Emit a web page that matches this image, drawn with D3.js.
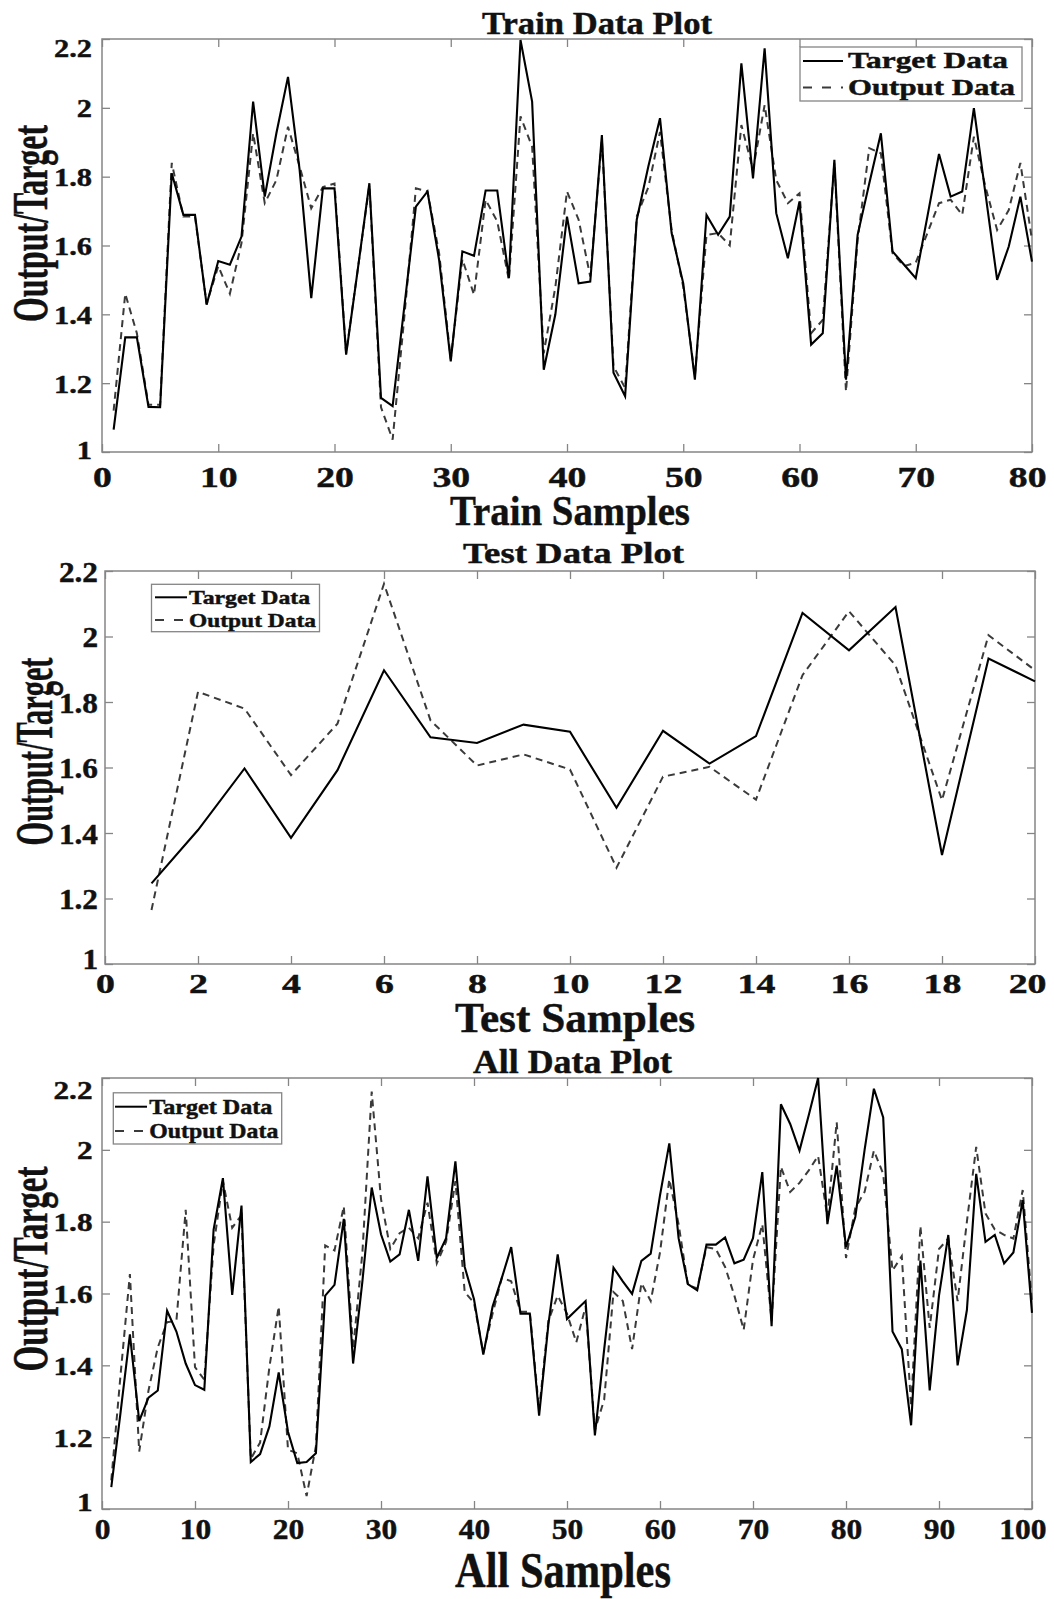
<!DOCTYPE html>
<html>
<head>
<meta charset="utf-8">
<script src="https://cdn.jsdelivr.net/npm/d3@7"></script>
<style>
body { margin: 0; background: #fff; }
text { font-family: "Liberation Serif", "Times New Roman", serif; font-weight: bold; fill: #111; stroke: #111; stroke-width: 0.45px; }
</style>
</head>
<body>
<script>
"use strict";
// values
const yTicks = [1, 1.2, 1.4, 1.6, 1.8, 2, 2.2];
const trainXTicks = [0, 10, 20, 30, 40, 50, 60, 70, 80];
const testXTicks = [0, 2, 4, 6, 8, 10, 12, 14, 16, 18, 20];
const allXTicks = [0, 10, 20, 30, 40, 50, 60, 70, 80, 90, 100];
const legendLabels = ["Target Data", "Output Data"];

const trainTarget = [1.065, 1.333, 1.333, 1.131, 1.13, 1.81, 1.689, 1.689, 1.428, 1.555,
  1.544, 1.626, 2.018, 1.742, 1.926, 2.09, 1.82, 1.447, 1.766, 1.766,
  1.283, 1.53, 1.781, 1.157, 1.133, 1.42, 1.713, 1.757, 1.558, 1.263,
  1.583, 1.57, 1.76, 1.76, 1.505, 2.197, 2.018, 1.239, 1.40, 1.684,
  1.49, 1.495, 1.921, 1.23, 1.162, 1.675, 1.83, 1.97, 1.636, 1.49,
  1.21, 1.689, 1.631, 1.684, 2.129, 1.795, 2.173, 1.694, 1.563, 1.728,
  1.312, 1.345, 1.849, 1.21, 1.631, 1.78, 1.926, 1.583, 1.544, 1.505,
  1.684, 1.866, 1.742, 1.757, 1.999, 1.75, 1.50, 1.597, 1.742, 1.553];
const trainOutput = [1.12, 1.46, 1.345, 1.137, 1.137, 1.84, 1.684, 1.684, 1.43, 1.54,
  1.46, 1.607, 1.926, 1.723, 1.79, 1.945, 1.83, 1.708, 1.77, 1.78,
  1.287, 1.53, 1.776, 1.13, 1.036, 1.39, 1.766, 1.757, 1.578, 1.27,
  1.56, 1.457, 1.733, 1.67, 1.50, 1.975, 1.887, 1.287, 1.48, 1.757,
  1.675, 1.51, 1.907, 1.249, 1.186, 1.684, 1.77, 1.93, 1.645, 1.48,
  1.22, 1.631, 1.636, 1.60, 1.95, 1.82, 2.008, 1.79, 1.723, 1.752,
  1.345, 1.384, 1.84, 1.176, 1.616, 1.883, 1.868, 1.578, 1.54, 1.55,
  1.636, 1.723, 1.733, 1.689, 1.916, 1.77, 1.645, 1.703, 1.84, 1.616];

const testTarget = [1.246, 1.409, 1.597, 1.385, 1.592, 1.897, 1.692, 1.675, 1.731, 1.709,
  1.477, 1.712, 1.612, 1.696, 2.072, 1.958, 2.09, 1.333, 1.933, 1.863];
const testOutput = [1.165, 1.831, 1.78, 1.577, 1.734, 2.161, 1.744, 1.606, 1.64, 1.594,
  1.294, 1.572, 1.602, 1.502, 1.882, 2.077, 1.912, 1.50, 2.004, 1.897];

const allTarget = [1.061, 1.27, 1.486, 1.245, 1.31, 1.33, 1.552, 1.494, 1.405, 1.345,
  1.332, 1.778, 1.921, 1.596, 1.845, 1.131, 1.153, 1.23, 1.38, 1.215,
  1.128, 1.131, 1.155, 1.594, 1.624, 1.808, 1.405, 1.634, 1.895, 1.765,
  1.689, 1.709, 1.833, 1.691, 1.926, 1.699, 1.754, 1.968, 1.674, 1.584,
  1.43, 1.564, 1.644, 1.729, 1.544, 1.544, 1.26, 1.514, 1.709, 1.529,
  1.554, 1.579, 1.205, 1.445, 1.672, 1.634, 1.599, 1.691, 1.711, 1.873,
  2.018, 1.754, 1.626, 1.609, 1.736, 1.736, 1.756, 1.684, 1.694, 1.754,
  1.938, 1.509, 2.127, 2.072, 1.998, 2.097, 2.2, 1.793, 1.956, 1.729,
  1.813, 2.0, 2.17, 2.09, 1.494, 1.445, 1.233, 1.692, 1.33, 1.594,
  1.763, 1.40, 1.554, 1.933, 1.744, 1.763, 1.684, 1.714, 1.86, 1.546];
const allOutput = [1.08, 1.375, 1.654, 1.16, 1.33, 1.45, 1.52, 1.524, 1.833, 1.395,
  1.36, 1.734, 1.913, 1.783, 1.818, 1.14, 1.185, 1.395, 1.564, 1.165,
  1.155, 1.036, 1.175, 1.734, 1.72, 1.843, 1.445, 1.714, 2.162, 1.863,
  1.724, 1.768, 1.783, 1.754, 1.853, 1.684, 1.744, 1.913, 1.604, 1.574,
  1.435, 1.544, 1.644, 1.634, 1.549, 1.549, 1.275, 1.524, 1.594, 1.544,
  1.464, 1.564, 1.22, 1.305, 1.604, 1.579, 1.445, 1.629, 1.579, 1.714,
  1.918, 1.793, 1.624, 1.614, 1.729, 1.724, 1.674, 1.594, 1.499, 1.694,
  1.793, 1.524, 1.953, 1.883, 1.908, 1.943, 1.983, 1.813, 2.077, 1.699,
  1.838, 1.883, 1.998, 1.933, 1.664, 1.704, 1.285, 1.788, 1.504, 1.724,
  1.753, 1.579, 1.80, 2.008, 1.823, 1.778, 1.763, 1.753, 1.888, 1.574];

const W = 1054, H = 1599;
const axisGray = "#858585";
const dash = "7,5";

let svg = d3.select("body").append("svg")
    .attr("width", W)
    .attr("height", H);

// squeeze or stretch a text element to a given width
function fit(sel, w) {
    sel.attr("textLength", w).attr("lengthAdjust", "spacingAndGlyphs");
}
function stretch(sel, sx) {
    sel.each(function() {
        let len = this.getComputedTextLength();
        d3.select(this).attr("textLength", len * sx).attr("lengthAdjust", "spacingAndGlyphs");
    });
}

const panels = [
    { title: "Train Data Plot", xLabel: "Train Samples", target: trainTarget, output: trainOutput,
      xTicks: trainXTicks, left: 102, right: 1032, top: 39, bottom: 452,
      titleX: 597, titleY: 34, titleSize: 32, titleW: 230,
      xLabX: 570, xLabY: 525, xLabSize: 43, xLabW: 240,
      yLabX: 47, yLabY: 223.5, yLabSize: 51, yLabW: 197,
      xTickSize: 29, xTickSx: 1.3, xTickOff: 35,
      yTickSize: 26, yTickSx: 1.17, yTickGap: 10, topShift: 9, bottomShift: -2,
      leg: { x: 800, y: 47, w: 222, h: 54, l0: 803, l1: 843, tx: 848, rows: [68, 95], lines: [61, 87.5], size: 23, tw: [160, 167] } },
    { title: "Test Data Plot", xLabel: "Test Samples", target: testTarget, output: testOutput,
      xTicks: testXTicks, left: 105, right: 1035, top: 571, bottom: 964,
      titleX: 573.5, titleY: 563, titleSize: 30, titleW: 221,
      xLabX: 575, xLabY: 1032, xLabSize: 43, xLabW: 240,
      yLabX: 52, yLabY: 751.5, yLabSize: 52, yLabW: 188,
      xTickSize: 28, xTickSx: 1.35, xTickOff: 29,
      yTickSize: 29.5, yTickSx: 1.06, yTickGap: 7, topShift: 0, bottomShift: -6,
      leg: { x: 151.5, y: 584.3, w: 168, h: 47.4, l0: 155, l1: 187, tx: 189, rows: [604, 626.7], lines: [597.3, 620], size: 19, tw: [121, 127] } },
    { title: "All Data Plot", xLabel: "All Samples", target: allTarget, output: allOutput,
      xTicks: allXTicks, left: 102, right: 1032, top: 1078, bottom: 1509,
      titleX: 572.5, titleY: 1073, titleSize: 33, titleW: 199,
      xLabX: 563, xLabY: 1587, xLabSize: 50, xLabW: 216,
      yLabX: 47, yLabY: 1269, yLabSize: 50, yLabW: 205,
      xTickSize: 30, xTickSx: 1.05, xTickOff: 30,
      yTickSize: 26, yTickSx: 1.2, yTickGap: 9.5, topShift: 12, bottomShift: -7,
      leg: { x: 113.3, y: 1092.8, w: 168.4, h: 51.2, l0: 115, l1: 147, tx: 149.3, rows: [1113.8, 1138], lines: [1106.7, 1131], size: 21, tw: [123, 129] } }
];

function drawPanel(p) {
    let x = d3.scaleLinear().domain([0, p.xTicks[p.xTicks.length - 1]]).range([p.left, p.right]);
    let y = d3.scaleLinear().domain([yTicks[0], yTicks[yTicks.length - 1]]).range([p.bottom, p.top]);
    let fmt = d3.format("~g");
    let g = svg.append("g");

    // ticks on all four sides, pointing in
    let xb = g.append("g")
        .attr("transform", `translate(0,${p.bottom})`)
        .attr("color", axisGray)
        .call(d3.axisBottom(x).tickValues(p.xTicks).tickFormat(fmt).tickSizeInner(-8).tickSizeOuter(0));
    xb.select(".domain").remove();
    xb.selectAll("line").attr("stroke-width", 1.3);
    xb.selectAll("text")
        .style("font-size", p.xTickSize + "px")
        .attr("y", p.xTickOff)
        .attr("dy", null)
        .call(stretch, p.xTickSx);
    // keep the last label inside the page
    xb.selectAll(".tick").each(function(d) {
        let t = d3.select(this).select("text").node();
        let half = t.getComputedTextLength() / 2;
        let over = x(d) + half - (W - 8);
        if (over > 0) d3.select(t).attr("x", -over);
    });

    g.append("g")
        .attr("transform", `translate(0,${p.top})`)
        .attr("color", axisGray)
        .call(d3.axisTop(x).tickValues(p.xTicks).tickFormat("").tickSizeInner(-8).tickSizeOuter(0))
        .call(a => a.select(".domain").remove())
        .selectAll("line").attr("stroke-width", 1.3);

    let yl = g.append("g")
        .attr("transform", `translate(${p.left},0)`)
        .attr("color", axisGray)
        .call(d3.axisLeft(y).tickValues(yTicks).tickFormat(fmt).tickSizeInner(-8).tickSizeOuter(0).tickPadding(p.yTickGap));
    yl.select(".domain").remove();
    yl.selectAll("line").attr("stroke-width", 1.3);
    yl.selectAll("text")
        .style("font-size", p.yTickSize + "px")
        .attr("dy", "0.34em")
        .call(stretch, p.yTickSx);
    yl.selectAll(".tick").filter(d => d === 2.2).select("text").attr("y", p.topShift);
    yl.selectAll(".tick").filter(d => d === 1).select("text").attr("y", p.bottomShift);

    g.append("g")
        .attr("transform", `translate(${p.right},0)`)
        .attr("color", axisGray)
        .call(d3.axisRight(y).tickValues(yTicks).tickFormat("").tickSizeInner(-8).tickSizeOuter(0))
        .call(a => a.select(".domain").remove())
        .selectAll("line").attr("stroke-width", 1.3);

    g.append("rect")
        .attr("x", p.left).attr("y", p.top)
        .attr("width", p.right - p.left).attr("height", p.bottom - p.top)
        .attr("fill", "none")
        .attr("stroke", axisGray)
        .attr("stroke-width", 1.5);

    let line = d3.line()
        .x((d, i) => x(i + 1))
        .y(d => y(d));

    g.append("path")
        .datum(p.output)
        .attr("fill", "none")
        .attr("stroke", "#3a3a3a")
        .attr("stroke-width", 2)
        .attr("stroke-dasharray", dash)
        .attr("d", line);
    g.append("path")
        .datum(p.target)
        .attr("fill", "none")
        .attr("stroke", "#000")
        .attr("stroke-width", 2.1)
        .attr("d", line);

    // legend
    let L = p.leg;
    let lg = g.append("g");
    lg.append("rect")
        .attr("x", L.x).attr("y", L.y).attr("width", L.w).attr("height", L.h)
        .attr("fill", "#fff")
        .attr("stroke", axisGray)
        .attr("stroke-width", 1.3);
    legendLabels.forEach((lab, i) => {
        lg.append("line")
            .attr("x1", L.l0).attr("x2", L.l1)
            .attr("y1", L.lines[i]).attr("y2", L.lines[i])
            .attr("stroke", i === 0 ? "#000" : "#3a3a3a")
            .attr("stroke-width", 2)
            .attr("stroke-dasharray", i === 0 ? null : "9,10");
        lg.append("text")
            .attr("x", L.tx).attr("y", L.rows[i])
            .style("font-size", L.size + "px")
            .text(lab)
            .call(fit, L.tw[i]);
    });

    // titles
    g.append("text")
        .attr("x", p.titleX).attr("y", p.titleY)
        .attr("text-anchor", "middle")
        .style("font-size", p.titleSize + "px")
        .text(p.title)
        .call(fit, p.titleW);
    g.append("text")
        .attr("x", p.xLabX).attr("y", p.xLabY)
        .attr("text-anchor", "middle")
        .style("font-size", p.xLabSize + "px")
        .text(p.xLabel)
        .call(fit, p.xLabW);
    g.append("text")
        .attr("transform", `translate(${p.yLabX},${p.yLabY}) rotate(-90)`)
        .attr("text-anchor", "middle")
        .style("font-size", p.yLabSize + "px")
        .text("Output/Target")
        .call(fit, p.yLabW);
}

panels.forEach(drawPanel);
</script>
</body>
</html>
